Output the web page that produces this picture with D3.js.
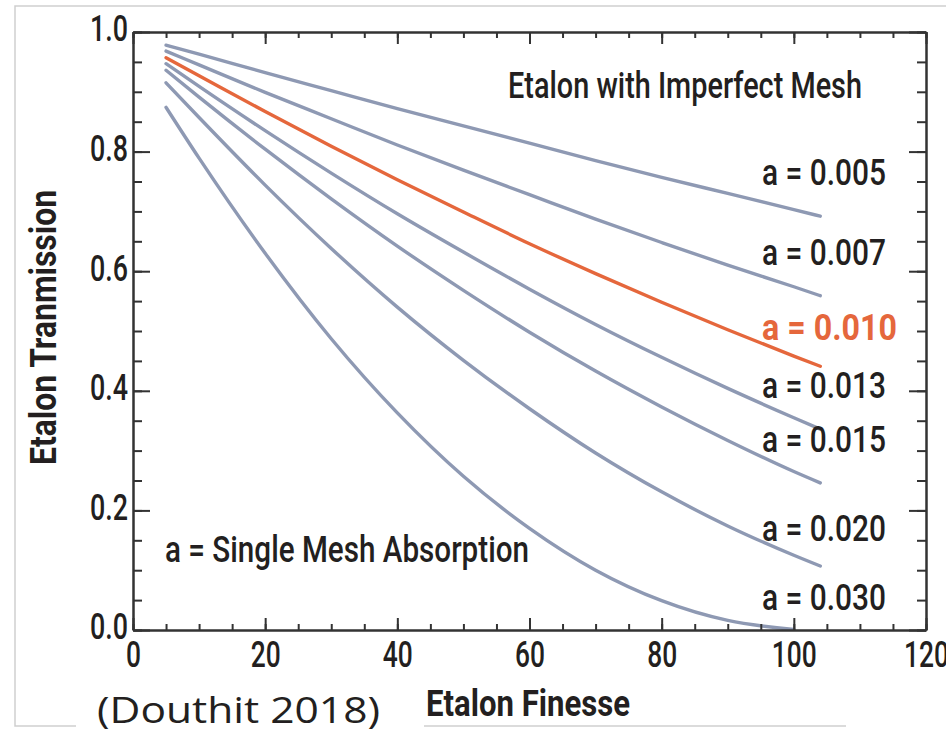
<!DOCTYPE html>
<html>
<head>
<meta charset="utf-8">
<script src="https://cdn.jsdelivr.net/npm/d3@7"></script>
<style>
  body { margin: 0; background: #fff; }
  svg { display: block; }
</style>
</head>
<body>
<div class="chart"></div>
<script>
const width = 946;
const height = 733;

const finesse = [5, 10, 20, 30, 40, 50, 60, 70, 80, 90, 100, 104];

// transmission per single-mesh absorption
const t005 = [0.978, 0.963, 0.932, 0.902, 0.872, 0.843, 0.814, 0.785, 0.757, 0.730, 0.703, 0.692];
const t007 = [0.968, 0.945, 0.899, 0.855, 0.811, 0.769, 0.728, 0.687, 0.648, 0.610, 0.574, 0.559];
const t010 = [0.957, 0.927, 0.867, 0.809, 0.753, 0.699, 0.646, 0.596, 0.548, 0.502, 0.458, 0.441];
const t013 = [0.947, 0.909, 0.835, 0.764, 0.696, 0.632, 0.570, 0.511, 0.456, 0.404, 0.355, 0.336];
const t015 = [0.936, 0.891, 0.804, 0.721, 0.642, 0.568, 0.498, 0.433, 0.373, 0.317, 0.265, 0.246];
const t020 = [0.915, 0.857, 0.744, 0.638, 0.540, 0.451, 0.370, 0.296, 0.231, 0.174, 0.125, 0.107];
const t030 = [0.874, 0.789, 0.630, 0.487, 0.363, 0.257, 0.170, 0.100, 0.049, 0.016, 0.001, null];

const seriesValues = [t005, t007, t010, t013, t015, t020, t030];
const seriesLabels = ["a = 0.005", "a = 0.007", "a = 0.010", "a = 0.013", "a = 0.015", "a = 0.020", "a = 0.030"];
const highlighted = "a = 0.010";

const xMajorTicks = [0, 20, 40, 60, 80, 100, 120];
const yMajorTicks = [0, 0.2, 0.4, 0.6, 0.8, 1.0];

// layout
const labelX = 762;
const labelBaselines = [185, 265, 340, 398, 452, 541, 610];
const grey = "#8e99b3";
const orange = "#e5673c";
const ink = "#231f20";
const font = "Roboto, 'Open Sans', sans-serif";

const svg = d3
  .select(".chart")
  .append("svg")
  .attr("width", width)
  .attr("height", height);

svg.append("rect").attr("width", width).attr("height", height).attr("fill", "#fff");

const x = d3.scaleLinear().domain([0, 120]).range([133, 926]);
const y = d3.scaleLinear().domain([0, 1]).range([630, 32]);

// outer frame of the slide image
svg
  .append("path")
  .attr("d", `M${width},6H15V726H846`)
  .attr("fill", "none")
  .attr("stroke", "#cfcfcf")
  .attr("stroke-width", 1.5);

// curves
const line = d3
  .line()
  .defined((d) => d[1] != null)
  .x((d) => x(d[0]))
  .y((d) => y(d[1]))
  .curve(d3.curveMonotoneX);

const order = [0, 1, 3, 4, 5, 6, 2]; // draw the orange one last
svg
  .append("g")
  .selectAll("path")
  .data(order)
  .enter()
  .append("path")
  .attr("d", (i) => line(finesse.map((f, j) => [f, seriesValues[i][j]])))
  .attr("fill", "none")
  .attr("stroke", (i) => (seriesLabels[i] === highlighted ? orange : grey))
  .attr("stroke-width", 3.4)
  .attr("stroke-linecap", "round");

// axes
function styleAxis(g) {
  g.select(".domain").attr("stroke", "#333").attr("stroke-width", 2);
  g.selectAll(".tick line").attr("stroke", "#333").attr("stroke-width", 2);
}

function labelWidth(s) {
  return s.replace(/\./g, "").length * 15 + (s.includes(".") ? 8 : 0);
}

function styleLabels(g) {
  g.selectAll(".tick text")
    .attr("fill", ink)
    .style("font-family", font)
    .style("font-size", "37px")
    .style("font-weight", 500)
    .attr("textLength", (d, i, n) => labelWidth(n[i].textContent))
    .attr("lengthAdjust", "spacingAndGlyphs");
}

const minorX = d3.range(0, 25).map((i) => i * 5);
const minorY = d3.range(0, 21).map((i) => i / 20);

function addAxis(gen, tx, ty) {
  return svg
    .append("g")
    .attr("transform", `translate(${tx},${ty})`)
    .call(gen)
    .call(styleAxis);
}

addAxis(d3.axisBottom(x).tickValues(minorX).tickSize(-6).tickSizeOuter(0).tickFormat(""), 0, 630);
addAxis(d3.axisTop(x).tickValues(minorX).tickSize(-6).tickSizeOuter(0).tickFormat(""), 0, 32);
addAxis(d3.axisLeft(y).tickValues(minorY).tickSize(-9).tickSizeOuter(0).tickFormat(""), 133, 0);
addAxis(d3.axisRight(y).tickValues(minorY).tickSize(-9).tickSizeOuter(0).tickFormat(""), 926, 0);

addAxis(
  d3.axisBottom(x).tickValues(xMajorTicks).tickSize(-12).tickSizeOuter(0).tickPadding(11).tickFormat(d3.format("d")),
  0, 630
).call(styleLabels);
addAxis(d3.axisTop(x).tickValues(xMajorTicks).tickSize(-12).tickSizeOuter(0).tickFormat(""), 0, 32);
addAxis(
  d3.axisLeft(y).tickValues(yMajorTicks).tickSize(-17).tickSizeOuter(0).tickPadding(5).tickFormat(d3.format(".1f")),
  133, 0
)
  .call(styleLabels)
  .call((g) => g.selectAll(".tick text").attr("dy", "0.24em"));
addAxis(d3.axisRight(y).tickValues(yMajorTicks).tickSize(-17).tickSizeOuter(0).tickFormat(""), 926, 0);

// curve labels
svg
  .append("g")
  .selectAll("text")
  .data(seriesLabels)
  .enter()
  .append("text")
  .attr("x", labelX)
  .attr("y", (d, i) => labelBaselines[i])
  .text((d) => d)
  .attr("fill", (d) => (d === highlighted ? orange : ink))
  .style("font-family", font)
  .style("font-weight", (d) => (d === highlighted ? "bold" : 500))
  .style("font-size", "37px")
  .attr("textLength", (d) => (d === highlighted ? 135 : 124))
  .attr("lengthAdjust", "spacingAndGlyphs");

function addText(str, tx, ty, len, opts = {}) {
  return svg
    .append("text")
    .attr("x", tx)
    .attr("y", ty)
    .text(str)
    .attr("fill", ink)
    .style("font-family", opts.family || font)
    .style("font-size", opts.size || "37px")
    .style("font-weight", opts.weight || 500)
    .attr("textLength", len)
    .attr("lengthAdjust", "spacingAndGlyphs");
}

addText("Etalon with Imperfect Mesh", 508, 98, 354);
addText("a =  Single Mesh Absorption", 165, 562, 364);

// axis titles
addText("Etalon Finesse", 426, 716, 204, { weight: "bold" });
addText("Etalon Tranmission", 0, 0, 275, { weight: "bold" })
  .attr("transform", "translate(56,465) rotate(-90)");

// source note sits over the frame
svg.append("rect").attr("x", 76).attr("y", 700).attr("width", 348).attr("height", 33).attr("fill", "#fff");
addText("(Douthit 2018)", 97, 723, 283, { family: "'Open Sans', sans-serif", size: "37px", weight: "normal" });
</script>
</body>
</html>
